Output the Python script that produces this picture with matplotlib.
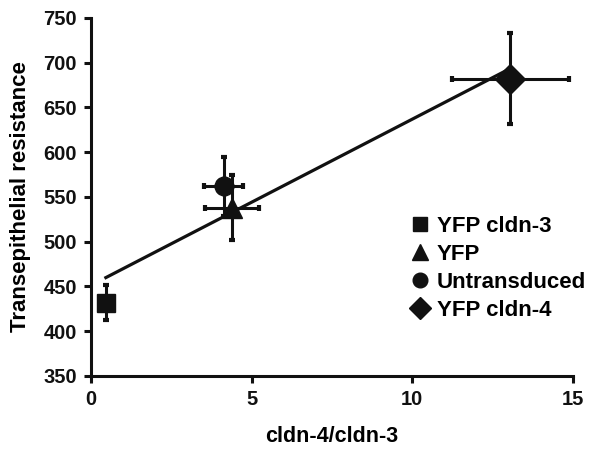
import numpy as np
import matplotlib
matplotlib.use("Agg")
import matplotlib.pyplot as plt

plt.rcParams['font.family'] = ['Liberation Sans', 'DejaVu Sans']
plt.rcParams['font.weight'] = 'bold'

labels = ["YFP cldn-3", "YFP", "Untransduced", "YFP cldn-4"]
markers = ["s", "^", "o", "D"]
msizes = [13, 14, 13.5, 15]
ratio = [0.47, 4.38, 4.13, 13.05]
ratio_err = [0.0, 0.84, 0.62, 1.83]
ter = [432, 538, 562, 682]
ter_err = [20, 36, 33, 51]

fig = plt.figure(figsize=(5.97, 4.49), dpi=100)
ax = fig.add_axes([0.152, 0.1626, 0.808, 0.7974])

# trend line
k, b = np.polyfit(ratio, ter, 1)
xl = np.array([min(ratio), max(ratio)])
ax.plot(xl, k * xl + b, color="#111111", lw=2.3, zorder=2)

for i in range(len(labels)):
    ax.errorbar(ratio[i], ter[i], yerr=ter_err[i],
                xerr=ratio_err[i] if ratio_err[i] > 0 else None,
                fmt=markers[i], ms=msizes[i], color="#111111", ecolor="#111111",
                elinewidth=2.2, capsize=2.3, capthick=3, label=labels[i], zorder=3)

ax.set_xlim(0, 15)
ax.set_ylim(350, 750)
ax.set_xticks([0, 5, 10, 15])
ax.set_yticks(range(350, 751, 50))
for s in ["top", "right"]:
    ax.spines[s].set_visible(False)
for s in ["left", "bottom"]:
    ax.spines[s].set_linewidth(2.2)
    ax.spines[s].set_color("#111111")
ax.tick_params(direction="out", length=5, width=2.2, labelsize=14.5, colors="#111111", pad=5)
for t in ax.get_xticklabels() + ax.get_yticklabels():
    t.set_fontweight("bold")

ax.set_xlabel("cldn-4/cldn-3", fontsize=15.5, fontweight="bold", labelpad=12)
ax.set_ylabel("Transepithelial resistance", fontsize=16, fontweight="bold", labelpad=9)

h, l = ax.get_legend_handles_labels()
h = [hh[0] for hh in h]
leg = ax.legend(h, l, loc="center left", bbox_to_anchor=(0.655, 0.3), frameon=False,
                fontsize=16, handletextpad=0.15, labelspacing=0.32, markerscale=0.78,
                handlelength=1.2, borderpad=0, borderaxespad=0)
for t in leg.get_texts():
    t.set_fontweight("bold")

fig.savefig("out.png", dpi=100)
